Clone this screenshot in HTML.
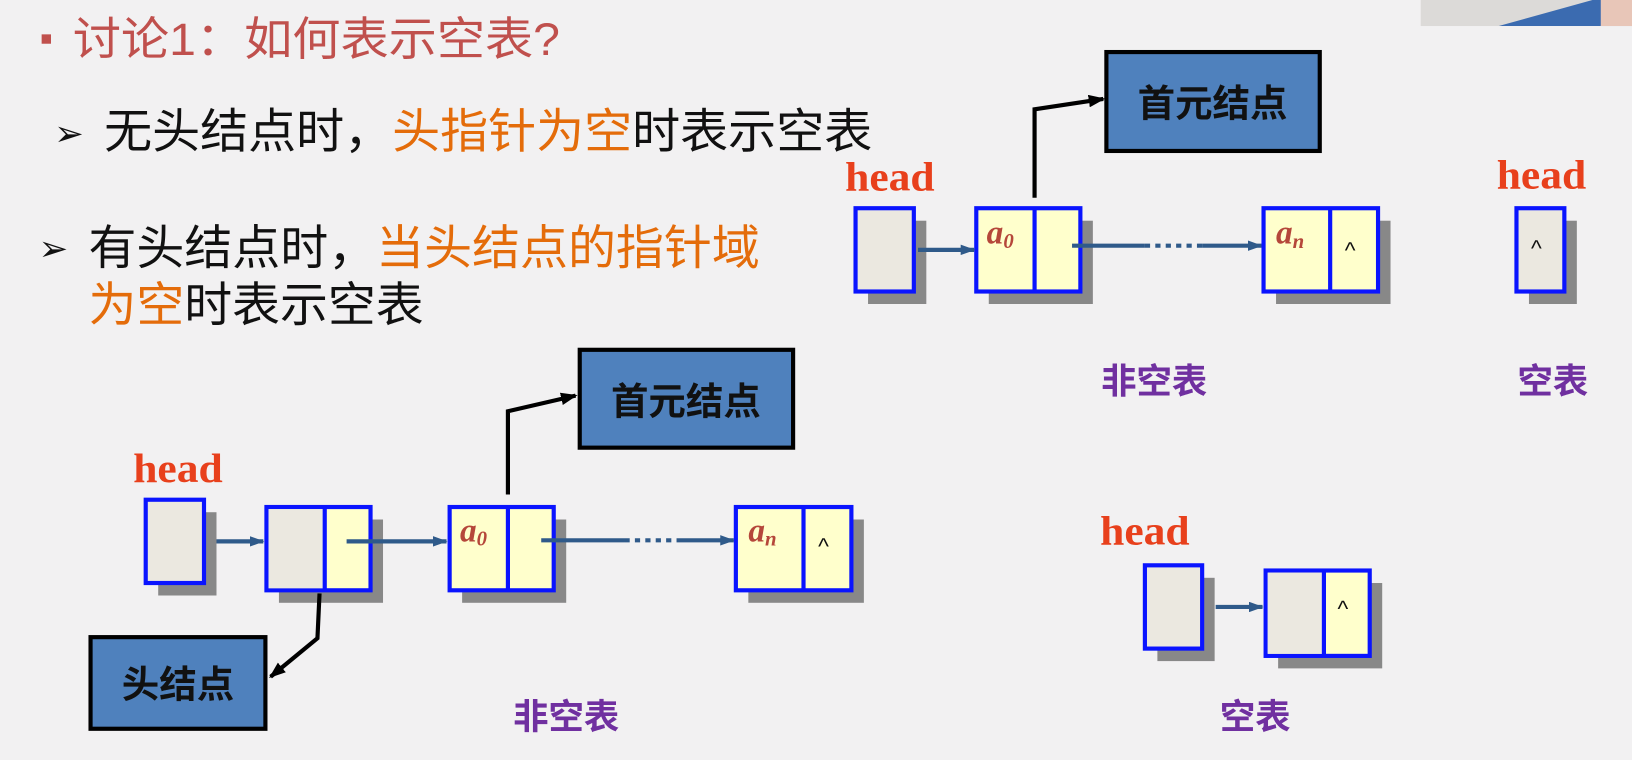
<!DOCTYPE html>
<html><head><meta charset="utf-8"><style>
html,body{margin:0;padding:0;background:#f2f1f2;}
svg{display:block}
.cn{font-family:"Liberation Sans","Noto Sans CJK SC",sans-serif;}
.hd{font-family:"Liberation Serif",serif;font-weight:bold;fill:#e8401c;font-size:40px;}
.ai{font-family:"Liberation Serif",serif;font-style:italic;font-weight:bold;fill:#b5473a;font-size:32px;}
.lbl{font-family:"Liberation Sans","Noto Sans CJK SC",sans-serif;font-weight:bold;fill:#7030a0;font-size:34px;}
.bx{font-family:"Liberation Sans","Noto Sans CJK SC",sans-serif;font-weight:bold;fill:#111;font-size:36px;}
</style></head><body>
<svg width="1632" height="760" viewBox="0 0 1568 730" preserveAspectRatio="none" xmlns="http://www.w3.org/2000/svg">
<defs>
<marker id="ab" markerWidth="14" markerHeight="10" refX="13" refY="5" orient="auto" markerUnits="userSpaceOnUse"><path d="M0,0 L14,5 L0,10 Z" fill="#2f5a8a"/></marker>
<marker id="ak" markerWidth="16" markerHeight="12" refX="14" refY="6" orient="auto" markerUnits="userSpaceOnUse"><path d="M0,0 L16,6 L0,12 Z" fill="#000"/></marker>
</defs>
<rect width="1568" height="730" fill="#f2f1f2"/>
<!-- webcam -->
<rect x="1365" y="0" width="203" height="25" fill="#dcdad8"/>
<path d="M1440,25 L1530,0 L1548,0 L1538,25 Z" fill="#3b6bb0"/>
<rect x="1538" y="0" width="30" height="25" fill="#e8c6b8"/>

<!-- texts -->
<rect x="40" y="33" width="9" height="9" fill="#c0504d"/>
<text x="70" y="53" class="cn" font-size="44" fill="#c0504d" textLength="468" lengthAdjust="spacingAndGlyphs">讨论1：如何表示空表?</text>
<text x="52" y="140" class="cn" font-size="34" fill="#111">➢</text>
<text x="100" y="142" class="cn" font-size="46" fill="#111" textLength="738" lengthAdjust="spacingAndGlyphs">无头结点时，<tspan fill="#e46c0a">头指针为空</tspan>时表示空表</text>
<text x="37" y="250" class="cn" font-size="34" fill="#111">➢</text>
<text x="85" y="254" class="cn" font-size="46" fill="#111" textLength="645" lengthAdjust="spacingAndGlyphs">有头结点时，<tspan fill="#e46c0a">当头结点的指针域</tspan></text>
<text x="85" y="309" class="cn" font-size="46" fill="#111" textLength="322" lengthAdjust="spacingAndGlyphs"><tspan fill="#e46c0a">为空</tspan>时表示空表</text>

<!-- Right top diagram -->
<text x="812" y="183" class="hd" textLength="86" lengthAdjust="spacingAndGlyphs">head</text>
<rect x="834" y="212" width="56" height="80" fill="#888"/>
<rect x="822" y="200" width="56" height="80" fill="#ebe8e0" stroke="#0a14ff" stroke-width="4"/>
<rect x="950" y="212" width="100" height="80" fill="#888"/>
<rect x="938" y="200" width="100" height="80" fill="#ffffcc" stroke="#0a14ff" stroke-width="4"/>
<line x1="994" y1="200" x2="994" y2="280" stroke="#0a14ff" stroke-width="4"/>
<text x="948" y="234" class="ai">a<tspan font-size="20" dy="4">0</tspan></text>
<line x1="882" y1="240" x2="936" y2="240" stroke="#2f5a8a" stroke-width="4" marker-end="url(#ab)"/>
<line x1="1030" y1="236" x2="1100" y2="236" stroke="#2f5a8a" stroke-width="4"/>
<line x1="1100" y1="236" x2="1155" y2="236" stroke="#2f5a8a" stroke-width="4" stroke-dasharray="5,5"/>
<line x1="1155" y1="236" x2="1212" y2="236" stroke="#2f5a8a" stroke-width="4" marker-end="url(#ab)"/>
<rect x="1226" y="212" width="110" height="80" fill="#888"/>
<rect x="1214" y="200" width="110" height="80" fill="#ffffcc" stroke="#0a14ff" stroke-width="4"/>
<line x1="1278" y1="200" x2="1278" y2="280" stroke="#0a14ff" stroke-width="4"/>
<text x="1226" y="234" class="ai">a<tspan font-size="20" dy="4">n</tspan></text>
<text x="1292" y="248" class="cn" font-size="22" fill="#111">^</text>
<polyline points="994,190 994,105 1060,95" fill="none" stroke="#000" stroke-width="4" marker-end="url(#ak)"/>
<rect x="1063" y="50" width="205" height="95" fill="#4f81bd" stroke="#000" stroke-width="4"/>
<text x="1165" y="112" class="bx" text-anchor="middle">首元结点</text>
<text x="1438" y="181" class="hd" textLength="86" lengthAdjust="spacingAndGlyphs">head</text>
<rect x="1469" y="212" width="46" height="80" fill="#888"/>
<rect x="1457" y="200" width="46" height="80" fill="#ebe8e0" stroke="#0a14ff" stroke-width="4"/>
<text x="1471" y="246" class="cn" font-size="22" fill="#111">^</text>
<text x="1058" y="378" class="lbl">非空表</text>
<text x="1458" y="378" class="lbl">空表</text>

<!-- Bottom left diagram -->
<text x="128" y="463" class="hd" textLength="86" lengthAdjust="spacingAndGlyphs">head</text>
<rect x="152" y="492" width="56" height="80" fill="#888"/>
<rect x="140" y="480" width="56" height="80" fill="#ebe8e0" stroke="#0a14ff" stroke-width="4"/>
<line x1="208" y1="520" x2="253" y2="520" stroke="#2f5a8a" stroke-width="4" marker-end="url(#ab)"/>
<rect x="268" y="499" width="100" height="80" fill="#888"/>
<rect x="256" y="487" width="100" height="80" fill="#ffffcc" stroke="#0a14ff" stroke-width="4"/>
<rect x="258" y="489" width="54" height="76" fill="#ebe8e0"/>
<line x1="312" y1="487" x2="312" y2="567" stroke="#0a14ff" stroke-width="4"/>
<line x1="333" y1="520" x2="429" y2="520" stroke="#2f5a8a" stroke-width="4" marker-end="url(#ab)"/>
<rect x="444" y="499" width="100" height="80" fill="#888"/>
<rect x="432" y="487" width="100" height="80" fill="#ffffcc" stroke="#0a14ff" stroke-width="4"/>
<line x1="488" y1="487" x2="488" y2="567" stroke="#0a14ff" stroke-width="4"/>
<text x="442" y="520" class="ai">a<tspan font-size="20" dy="4">0</tspan></text>
<line x1="520" y1="519" x2="600" y2="519" stroke="#2f5a8a" stroke-width="4"/>
<line x1="600" y1="519" x2="650" y2="519" stroke="#2f5a8a" stroke-width="4" stroke-dasharray="5,5"/>
<line x1="650" y1="519" x2="705" y2="519" stroke="#2f5a8a" stroke-width="4" marker-end="url(#ab)"/>
<rect x="719" y="499" width="111" height="80" fill="#888"/>
<rect x="707" y="487" width="111" height="80" fill="#ffffcc" stroke="#0a14ff" stroke-width="4"/>
<line x1="772" y1="487" x2="772" y2="567" stroke="#0a14ff" stroke-width="4"/>
<text x="719" y="520" class="ai">a<tspan font-size="20" dy="4">n</tspan></text>
<text x="786" y="532" class="cn" font-size="22" fill="#111">^</text>
<polyline points="488,475 488,395 553,380" fill="none" stroke="#000" stroke-width="4" marker-end="url(#ak)"/>
<rect x="557" y="336" width="205" height="94" fill="#4f81bd" stroke="#000" stroke-width="4"/>
<text x="659" y="398" class="bx" text-anchor="middle">首元结点</text>
<polyline points="307,570 305,613 260,650" fill="none" stroke="#000" stroke-width="4" marker-end="url(#ak)"/>
<rect x="87" y="612" width="168" height="88" fill="#4f81bd" stroke="#000" stroke-width="4"/>
<text x="171" y="670" class="bx" text-anchor="middle">头结点</text>
<text x="493" y="700" class="lbl">非空表</text>

<!-- Bottom right -->
<text x="1057" y="523" class="hd" textLength="86" lengthAdjust="spacingAndGlyphs">head</text>
<rect x="1112" y="555" width="55" height="80" fill="#888"/>
<rect x="1100" y="543" width="55" height="80" fill="#ebe8e0" stroke="#0a14ff" stroke-width="4"/>
<line x1="1168" y1="583" x2="1213" y2="583" stroke="#2f5a8a" stroke-width="4" marker-end="url(#ab)"/>
<rect x="1228" y="560" width="100" height="82" fill="#888"/>
<rect x="1216" y="548" width="100" height="82" fill="#ffffcc" stroke="#0a14ff" stroke-width="4"/>
<rect x="1218" y="550" width="54" height="78" fill="#ebe8e0"/>
<line x1="1272" y1="548" x2="1272" y2="630" stroke="#0a14ff" stroke-width="4"/>
<text x="1285" y="592" class="cn" font-size="22" fill="#111">^</text>
<text x="1172" y="700" class="lbl">空表</text>
</svg>
</body></html>
